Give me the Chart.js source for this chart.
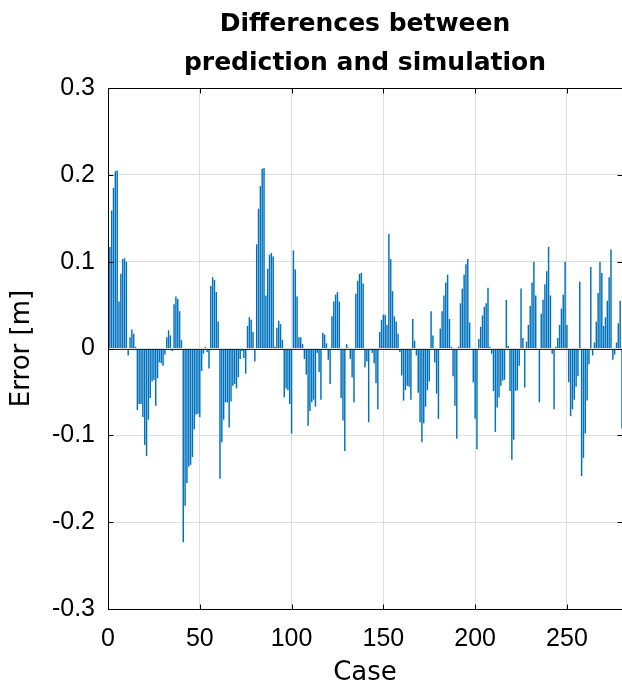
<!DOCTYPE html>
<html>
<head>
<meta charset="utf-8">
<script src="https://cdn.jsdelivr.net/npm/chart.js@4.4.1/dist/chart.umd.min.js"></script>
<style>
  html, body { margin: 0; padding: 0; background: #fff; overflow: hidden; }
  #wrap { position: relative; width: 630px; height: 689px; }
</style>
</head>
<body>
<div id="wrap"><canvas id="chart" width="630" height="689"></canvas></div>
<script>
// error per case (m)
const errors = [
  0.117, 0.159, 0.185, 0.204, 0.205, 0.054, 0.086, 0.103, 0.104, 0.100,
  -0.008, 0.013, 0.022, 0.017, 0.002, -0.071, -0.064, -0.064, -0.079, -0.111,
  -0.124, -0.082, -0.057, -0.038, -0.036, -0.066, -0.034, -0.016, -0.017, -0.020,
  -0.007, 0.013, 0.021, 0.015, -0.003, 0.051, 0.060, 0.057, 0.043, 0.010,
  -0.223, -0.181, -0.155, -0.136, -0.134, -0.125, -0.093, -0.076, -0.075, -0.079,
  -0.026, -0.006, 0.002, -0.004, -0.023, 0.072, 0.082, 0.079, 0.065, 0.031,
  -0.150, -0.108, -0.082, -0.062, -0.062, -0.091, -0.061, -0.043, -0.041, -0.046,
  -0.033, -0.012, -0.003, -0.011, -0.029, 0.026, 0.036, 0.033, 0.019, -0.015,
  0.120, 0.161, 0.187, 0.207, 0.208, 0.061, 0.092, 0.108, 0.110, 0.106,
  0.002, 0.024, 0.032, 0.028, 0.010, -0.056, -0.046, -0.048, -0.064, -0.098,
  0.113, 0.091, 0.060, 0.013, 0.013, 0.005, -0.012, -0.030, -0.089, -0.072,
  -0.062, -0.059, -0.067, -0.005, -0.027, -0.059, 0.018, 0.016, 0.006, -0.013,
  -0.041, 0.037, 0.054, 0.062, 0.065, 0.054, -0.057, -0.083, -0.118, 0.005,
  0.001, -0.012, -0.033, -0.062, 0.063, 0.078, 0.086, 0.087, 0.075, -0.022,
  -0.015, -0.085, -0.002, -0.005, -0.017, -0.040, -0.070, 0.019, 0.033, 0.039,
  0.039, 0.027, 0.132, 0.103, 0.066, 0.037, 0.031, 0.017, -0.004, -0.031,
  -0.060, -0.048, -0.043, -0.044, -0.059, 0.034, 0.009, -0.008, -0.051, -0.085,
  -0.108, -0.086, -0.067, -0.048, -0.038, 0.043, 0.015, -0.016, -0.052, -0.081,
  0.023, 0.043, 0.061, 0.076, 0.085, 0.034, 0.002, -0.032, -0.066, -0.104,
  0.002, 0.052, 0.069, 0.085, 0.097, 0.103, 0.030, -0.001, -0.039, -0.081,
  -0.116, 0.011, 0.025, 0.038, 0.048, 0.052, 0.070, 0.002, -0.006, -0.049,
  -0.096, -0.068, -0.056, -0.043, -0.037, -0.036, 0.056, 0.003, -0.049, -0.128,
  -0.105, -0.049, -0.048, -0.020, 0.069, 0.012, -0.045, 0.008, 0.027, 0.049,
  0.076, 0.100, 0.061, -0.001, -0.062, 0.040, 0.056, 0.074, 0.089, 0.117,
  0.061, -0.006, -0.070, 0.002, 0.012, 0.027, 0.046, 0.062, 0.100, 0.027,
  -0.039, -0.078, -0.070, -0.059, -0.044, -0.032, 0.077, -0.147, -0.126, -0.098,
  -0.060, -0.018, 0.094, -0.008, 0.007, 0.031, 0.064, 0.100, 0.087, 0.026,
  0.036, 0.055, 0.082, 0.114, -0.013, -0.007, 0.007, 0.029, 0.055, -0.092,
];

// case numbers 1..N
const caseIds = errors.map((_, i) => i + 1);

const xTickValues = [0, 50, 100, 150, 200, 250];
const yTickValues = [-0.3, -0.2, -0.1, 0, 0.1, 0.2, 0.3];
const yTickLabels = ['-0.3', '-0.2', '-0.1', '0', '0.1', '0.2', '0.3'];

const TICK_FONT = "'Liberation Sans', Arial, Helvetica, sans-serif";
const LABEL_FONT = "'DejaVu Sans', Verdana, sans-serif";
const INK = '#000000';
const GRID = '#dedede';
const BAR = '#0072BD';

// matlab-like box, inward ticks and bar baseline
const matlabAxes = {
  id: 'matlabAxes',
  afterDatasetsDraw(chart) {
    const { ctx, chartArea: a, scales: { x, y } } = chart;
    const len = 5;
    ctx.save();
    ctx.lineWidth = 1;

    const y0 = Math.round(y.getPixelForValue(0)) + 0.5;
    ctx.strokeStyle = '#262626';
    ctx.beginPath();
    ctx.moveTo(a.left, y0);
    ctx.lineTo(a.right, y0);
    ctx.stroke();

    ctx.strokeStyle = INK;
    const l = Math.round(a.left) + 0.5;
    const t = Math.round(a.top) + 0.5;
    const r = Math.round(a.right) + 0.5;
    const b = Math.round(a.bottom) + 0.5;
    ctx.strokeRect(l, t, r - l, b - t);

    ctx.beginPath();
    x.ticks.forEach((tick) => {
      const px = Math.round(x.getPixelForValue(tick.value)) + 0.5;
      ctx.moveTo(px, b);
      ctx.lineTo(px, b - len);
      ctx.moveTo(px, t);
      ctx.lineTo(px, t + len);
    });
    y.ticks.forEach((tick) => {
      const py = Math.round(y.getPixelForValue(tick.value)) + 0.5;
      ctx.moveTo(l, py);
      ctx.lineTo(l + len, py);
      ctx.moveTo(r, py);
      ctx.lineTo(r - len, py);
    });
    ctx.stroke();
    ctx.restore();
  },
};

new Chart(document.getElementById('chart'), {
  type: 'bar',
  data: {
    datasets: [
      {
        data: caseIds.map((c, i) => ({ x: c, y: errors[i] })),
        backgroundColor: BAR,
        borderWidth: 0,
        barPercentage: 0.8,
        categoryPercentage: 1,
      },
    ],
  },
  options: {
    responsive: false,
    animation: false,
    layout: { padding: { left: 0, right: 8, top: 0, bottom: 0 } },
    plugins: {
      legend: { display: false },
      tooltip: { enabled: false },
      title: {
        display: true,
        fullSize: false,
        text: ['Differences between', 'prediction and simulation'],
        color: INK,
        font: { family: LABEL_FONT, size: 25, weight: 'bold', lineHeight: 1.56 },
        padding: { top: 5, bottom: 5 },
      },
    },
    scales: {
      x: {
        type: 'linear',
        min: 0,
        max: 280,
        offset: false,
        afterBuildTicks: (s) => {
          s.ticks = xTickValues.map((v) => ({ value: v }));
        },
        afterFit: (s) => {
          s.height = 80;
        },
        grid: { color: GRID, drawTicks: false, offset: false },
        border: { display: false },
        ticks: {
          color: INK,
          font: { family: TICK_FONT, size: 25 },
          padding: 15,
          maxRotation: 0,
          autoSkip: false,
        },
        title: {
          display: true,
          text: 'Case',
          color: INK,
          font: { family: LABEL_FONT, size: 26 },
          padding: { top: 0, bottom: 0 },
        },
      },
      y: {
        min: -0.3,
        max: 0.3,
        afterBuildTicks: (s) => {
          s.ticks = yTickValues.map((v) => ({ value: v }));
        },
        afterFit: (s) => {
          s.width = 108;
        },
        grid: { color: GRID, drawTicks: false },
        border: { display: false },
        ticks: {
          color: INK,
          font: { family: TICK_FONT, size: 25 },
          padding: 13,
          callback: (v, i) => yTickLabels[i],
        },
        title: {
          display: true,
          text: 'Error [m]',
          color: INK,
          font: { family: LABEL_FONT, size: 26 },
          padding: { top: 7, bottom: 0 },
        },
      },
    },
  },
  plugins: [matlabAxes],
});
</script>
</body>
</html>
